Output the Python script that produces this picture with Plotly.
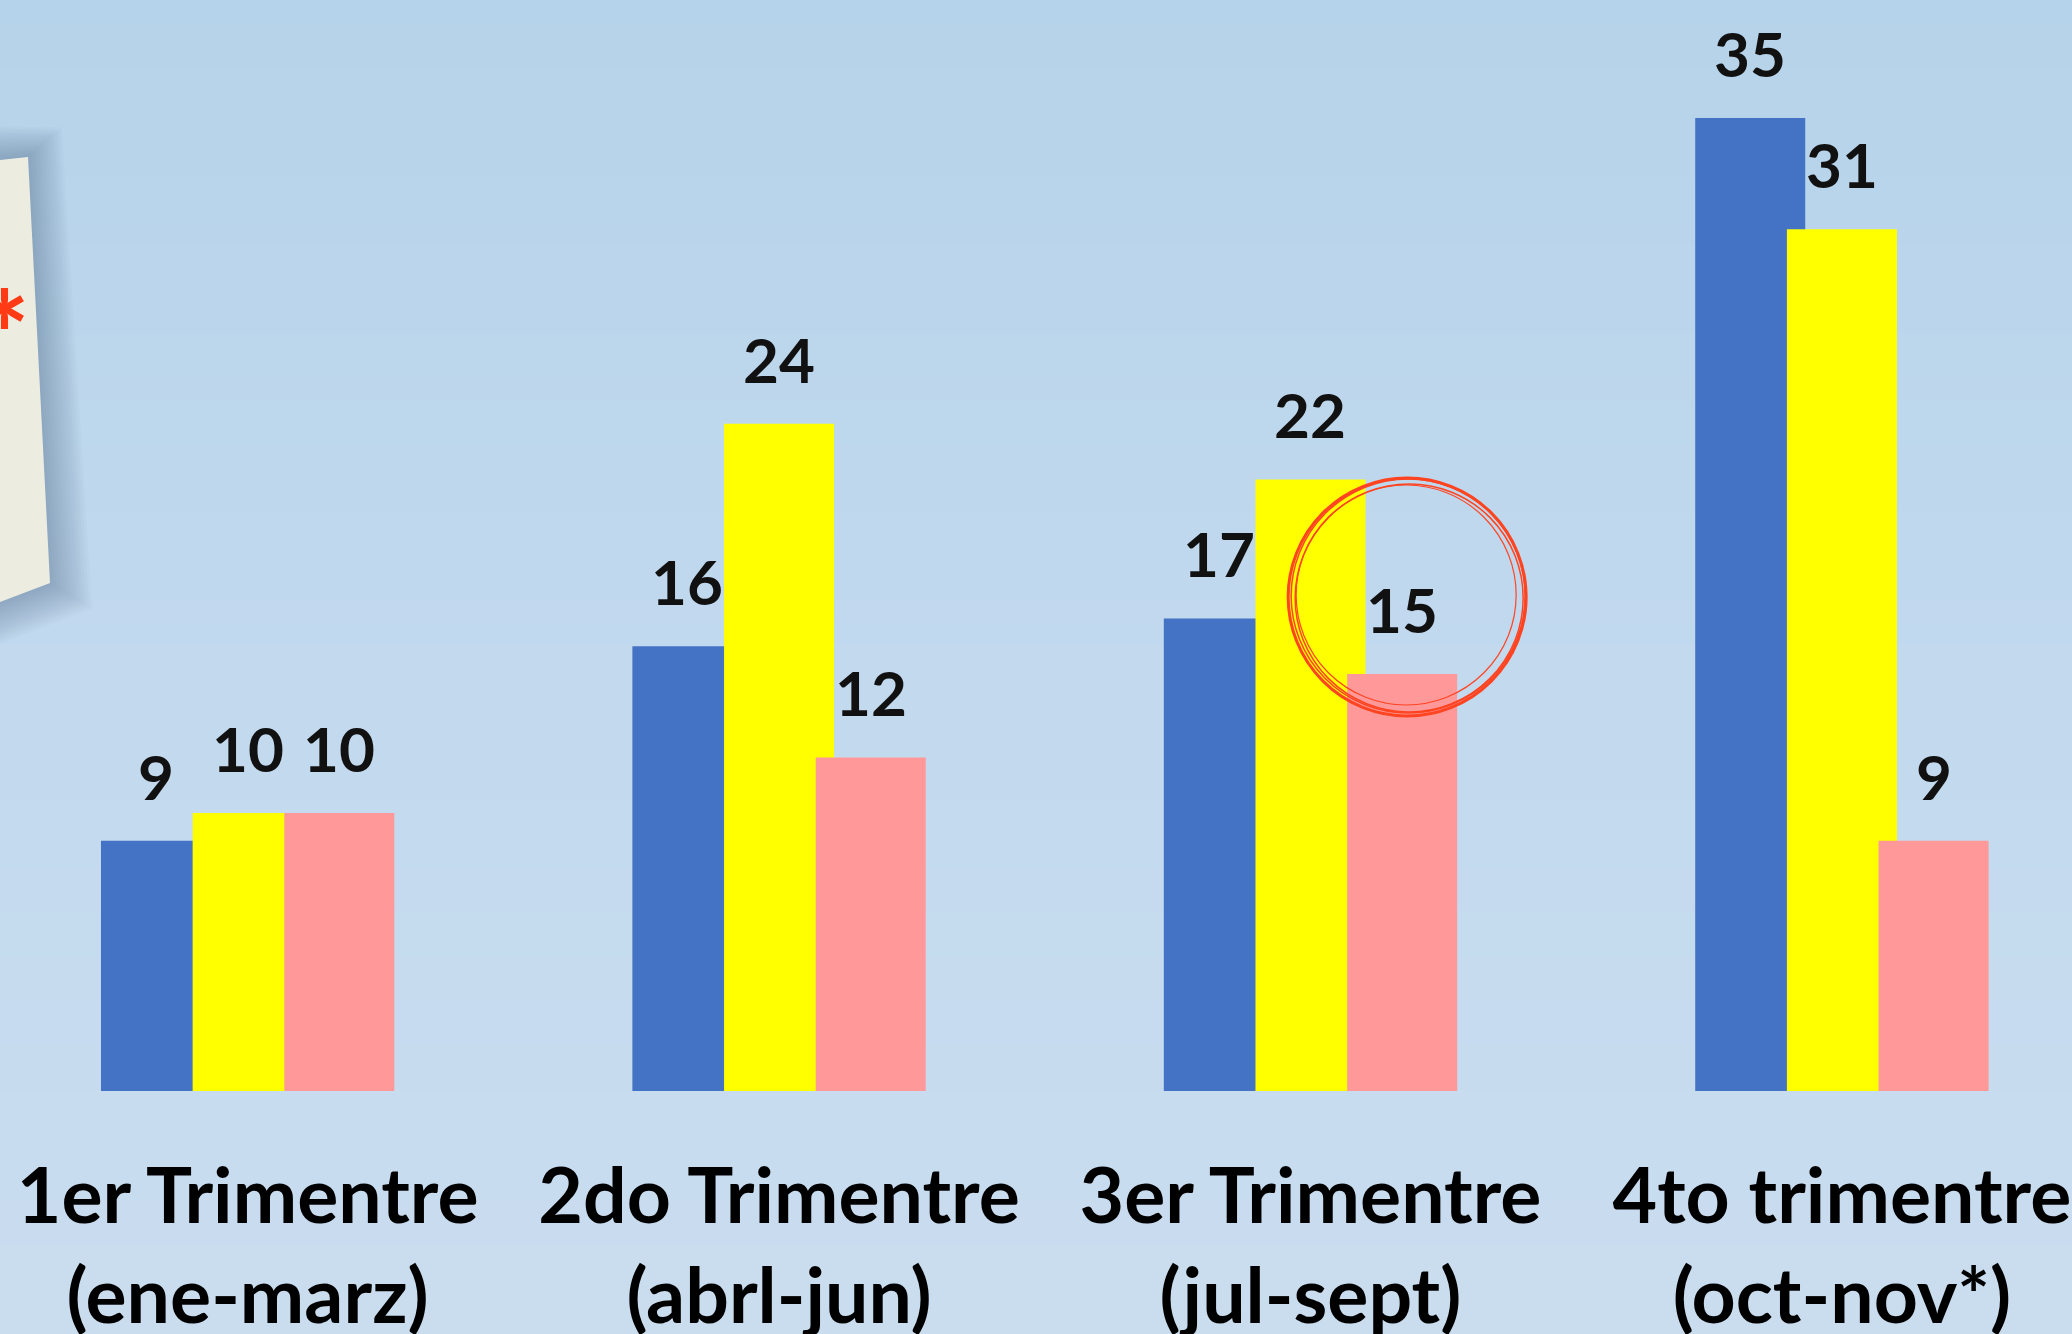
import plotly.graph_objects as go

# ---- data ----
categories = ["1er Trimentre<br>(ene-marz)", "2do Trimentre<br>(abrl-jun)",
              "3er Trimentre<br>(jul-sept)", "4to trimentre<br>(oct-nov*)"]
serie_a = [9, 16, 17, 35]    # blue
serie_b = [10, 24, 22, 31]   # yellow
serie_c = [10, 12, 15, 9]    # pink
colors = ["#4472C4", "#FFFF00", "#FF9999"]

W, H = 2072, 1334
PLOT_BOTTOM = 1091          # px of baseline
PX_PER_UNIT = 27.8
YMAX = PLOT_BOTTOM / PX_PER_UNIT
XR = [-0.466, 3.433]

BAR_W = 0.207
OFFSETS = [-0.276, -0.1035, 0.069]

xs = list(range(len(categories)))
fig = go.Figure()
for vals, col, off in zip([serie_a, serie_b, serie_c], colors, OFFSETS):
    fig.add_trace(go.Bar(x=xs, y=vals, width=BAR_W, offset=off,
                         marker=dict(color=col, line=dict(width=0)),
                         showlegend=False, hoverinfo="skip"))

# data labels
annotations = []
for vals, off in zip([serie_a, serie_b, serie_c], OFFSETS):
    for i, v in enumerate(vals):
        annotations.append(dict(x=i + off + BAR_W / 2, y=v, xref="x", yref="y",
                                text=str(v), showarrow=False, yanchor="bottom",
                                yshift=26,
                                font=dict(family="Lato", size=62, color="#111111", weight=700)))

def py(p):
    return (PLOT_BOTTOM - p) / PLOT_BOTTOM

def px(p):
    return p / W

shapes = []
# background gradient bands
stops = [(0, (181, 211, 234)), (670, (194, 217, 238)), (1334, (202, 221, 239))]
N = 60
for k in range(N):
    y0 = H * k / N
    y1 = H * (k + 1) / N
    ym = (y0 + y1) / 2
    for (a, ca), (b, cb) in zip(stops[:-1], stops[1:]):
        if a <= ym <= b:
            t = (ym - a) / (b - a)
            c = tuple(int(round(ca[j] + (cb[j] - ca[j]) * t)) for j in range(3))
            break
    shapes.append(dict(type="rect", xref="paper", yref="paper", x0=0, x1=1,
                       y0=py(y1 + 1), y1=py(y0), fillcolor="rgb(%d,%d,%d)" % c,
                       line=dict(width=0), layer="below"))

# soft shadow around note
note = [(0, 160), (28, 157), (50, 583), (0, 602)]
for s in range(14, 0, -1):
    e = s * 3
    pts = [(0, 160 - e * 0.8), (28 + e * 0.8, 157 - e * 0.7), (50 + e, 583 + e * 0.6), (0, 602 + e)]
    path = "M " + " L ".join("%f,%f" % (px(a), py(b)) for a, b in pts) + " Z"
    shapes.append(dict(type="path", xref="paper", yref="paper", path=path,
                       fillcolor="rgba(95,115,140,0.035)", line=dict(width=0), layer="below"))
path = "M " + " L ".join("%f,%f" % (px(a), py(b)) for a, b in note) + " Z"
shapes.append(dict(type="path", xref="paper", yref="paper", path=path,
                   fillcolor="#EDECE1", line=dict(width=0), layer="below"))

# baseline
shapes.append(dict(type="line", xref="paper", yref="y", x0=13 / W, x1=1, y0=-0.07, y1=-0.07,
                   line=dict(color="#D9DBDE", width=4), layer="above"))

# red hand-drawn circle around label 15 (3er Trimentre, pink)
cx = 2 + OFFSETS[2] + BAR_W / 2
for dx, dy, r, w in [(0, 0, 119, 3.0), (2, -1, 114, 1.5), (-1, 2, 110, 1.2), (1, 1, 117, 1.5)]:
    shapes.append(dict(type="circle", xref="x", yref="y", xsizemode="pixel", ysizemode="pixel",
                       xanchor=cx, yanchor=serie_c[2],
                       x0=dx + 5 - r, x1=dx + 5 + r, y0=dy + 77 - r, y1=dy + 77 + r,
                       line=dict(color="#FF4422", width=w), layer="above"))

# red asterisk on the note
annotations.append(dict(xref="paper", yref="paper", x=px(4), y=py(312), text="*",
                        showarrow=False, xanchor="center", yanchor="middle", yshift=-22,
                        font=dict(family="Lato", size=120, color="#FF3A14", weight=700)))

fig.update_layout(
    width=W, height=H,
    margin=dict(l=0, r=0, t=0, b=H - PLOT_BOTTOM, pad=0, autoexpand=False),
    paper_bgcolor="#C2D9EE", plot_bgcolor="rgba(0,0,0,0)",
    barmode="overlay",
    xaxis=dict(range=XR, tickvals=xs, ticktext=categories, showgrid=False, zeroline=False,
               showline=False, ticks="", ticklabelstandoff=54, automargin=False,
               tickfont=dict(family="Lato", size=77, color="#000000", weight=700)),
    yaxis=dict(range=[0, YMAX], visible=False, automargin=False),
    shapes=shapes, annotations=annotations,
)
fig.write_html("out.html", config={"displayModeBar": False},
               post_script="document.body.style.margin='0';document.body.style.overflow='hidden';")
